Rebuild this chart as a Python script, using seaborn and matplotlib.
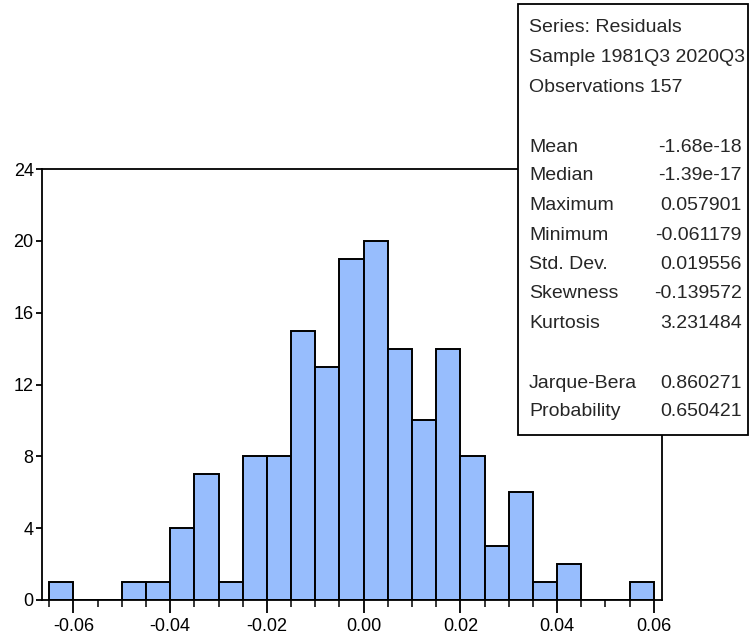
import numpy as np
import pandas as pd
import matplotlib
matplotlib.use("Agg")
import matplotlib.pyplot as plt
from matplotlib.patches import Rectangle
from matplotlib.ticker import MultipleLocator
import seaborn as sns

# ---- data ----
bin_start = -0.065
bin_width = 0.005
counts = [1, 0, 0, 1, 1, 4, 7, 1, 8, 8, 15, 13, 19, 20, 14, 10, 14, 8, 3, 6, 1, 2, 0, 0, 1]
x_ticks = [-0.06, -0.04, -0.02, 0.00, 0.02, 0.04, 0.06]
x_tick_labels = ["-0.06", "-0.04", "-0.02", "0.00", "0.02", "0.04", "0.06"]
y_ticks = [0, 4, 8, 12, 16, 20, 24]
header_lines = ["Series: Residuals", "Sample 1981Q3 2020Q3", "Observations 157"]
stat_names = ["Mean", "Median", "Maximum", "Minimum", "Std. Dev.", "Skewness", "Kurtosis"]
stat_values = ["-1.68e-18", "-1.39e-17", "0.057901", "-0.061179", "0.019556", "-0.139572", "3.231484"]
test_names = ["Jarque-Bera", "Probability"]
test_values = ["0.860271", "0.650421"]

sns.set_style("white")
plt.rcParams["font.family"] = ["Liberation Sans", "DejaVu Sans"]

n = len(counts)
edges = [bin_start + i * bin_width for i in range(n + 1)]
centers = [bin_start + (i + 0.5) * bin_width for i in range(n)]
df = pd.DataFrame({"resid": centers, "count": counts})

W, H = 752, 637
fig = plt.figure(figsize=(W / 100, H / 100), dpi=100)
ax = fig.add_axes([42 / W, 1 - 600 / H, (661.5 - 42) / W, (600 - 169) / H])

sns.histplot(data=df, x="resid", weights="count", bins=edges, ax=ax,
             color="#97BDFD", edgecolor="black", linewidth=1.4, alpha=1.0)

ax.set_xlim(-0.0665, 0.0616)
ax.set_ylim(0, 24)
ax.set_xlabel("")
ax.set_ylabel("")
ax.set_xticks(x_ticks)
ax.set_xticklabels(x_tick_labels)
ax.xaxis.set_minor_locator(MultipleLocator(0.005))
ax.set_yticks(y_ticks)
ax.set_yticklabels([str(v) for v in y_ticks])
ax.tick_params(axis="x", which="major", direction="out", length=9, width=1.3,
               bottom=True, labelsize=13, pad=4, colors="black")
ax.tick_params(axis="x", which="minor", direction="out", length=5, width=1.3, bottom=True)
ax.tick_params(axis="y", which="major", direction="out", length=4, width=1.3,
               left=True, labelsize=13, pad=2, colors="black")
for s in ax.spines.values():
    s.set_visible(True)
    s.set_color("black")
    s.set_linewidth(1.3)

# statistics box
box = Rectangle((518 / W, 1 - 435 / H), (748 - 518) / W, (435 - 4) / H,
                transform=fig.transFigure, facecolor="white", edgecolor="black",
                linewidth=1.3, zorder=10)
fig.add_artist(box)

xl = 529 / W
xr = 742 / W
fs = 14
def ty(y):
    return 1 - y / H

ys_header = [28, 58, 88]
for t, y in zip(header_lines, ys_header):
    fig.text(xl, ty(y), t, fontsize=fs, va="center", ha="left", zorder=11)
ys_stats = [147, 176, 206, 235, 265, 294, 324]
for name, val, y in zip(stat_names, stat_values, ys_stats):
    fig.text(xl, ty(y), name, fontsize=fs, va="center", ha="left", zorder=11)
    fig.text(xr, ty(y), val, fontsize=fs, va="center", ha="right", zorder=11)
ys_tests = [383, 412]
for name, val, y in zip(test_names, test_values, ys_tests):
    fig.text(xl, ty(y), name, fontsize=fs, va="center", ha="left", zorder=11)
    fig.text(xr, ty(y), val, fontsize=fs, va="center", ha="right", zorder=11)

fig.savefig("out.png", dpi=100)
